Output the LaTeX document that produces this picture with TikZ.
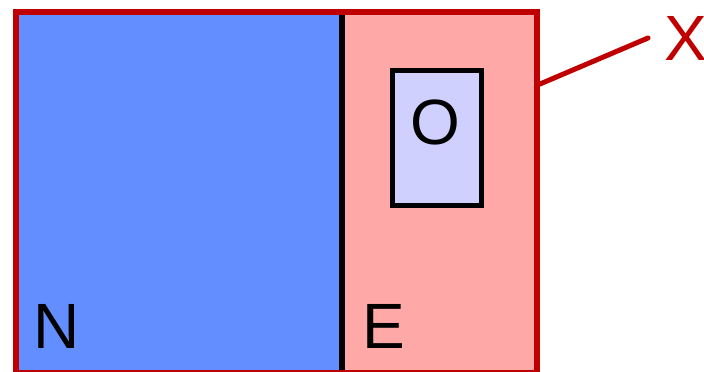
\documentclass[tikz,border=0pt]{standalone}
\usepackage{fontspec}
\setmainfont{Liberation Sans}
\definecolor{frame}{RGB}{192,0,0}
\definecolor{nfill}{RGB}{98,142,255}
\definecolor{efill}{RGB}{255,168,168}
\definecolor{ofill}{RGB}{208,208,255}
\begin{document}
\begin{tikzpicture}[x=1pt,y=-1pt,
  lbl/.style={inner sep=0pt,font=\fontsize{64}{64}\selectfont},
  region/.style={draw=none,inner sep=0pt}]
\useasboundingbox (0,0) rectangle (704,372);
\node[region,fill=nfill,minimum width=329pt,minimum height=360.5pt,anchor=north west] (N) at (13,9) {};
\node[region,fill=efill,minimum width=192pt,minimum height=360.5pt,anchor=north west] (E) at (342,9) {};
\draw[line width=6pt] (N.north east) -- (N.south east);
\node[draw=black,line width=5pt,fill=ofill,minimum width=89pt,minimum height=135pt,inner sep=0pt] (O) at (436.5,137.5) {};
\node[lbl,anchor=center] (Ot) at (435,122) {O};
\node[draw=frame,line width=6pt,minimum width=521pt,minimum height=360.5pt,anchor=north west,inner sep=0pt] (F) at (13,9) {};
\node[lbl,anchor=base west] (Nt) at (33,348) {N};
\node[lbl,anchor=base west] (Et) at (362,348) {E};
\node[lbl,anchor=base west,text=frame] (Xt) at (664,60) {X};
\coordinate (Xe) at (648,38);
\draw[frame,line width=5pt,line cap=round] (F.east |- 0,84) -- (Xe);
\end{tikzpicture}
\end{document}
